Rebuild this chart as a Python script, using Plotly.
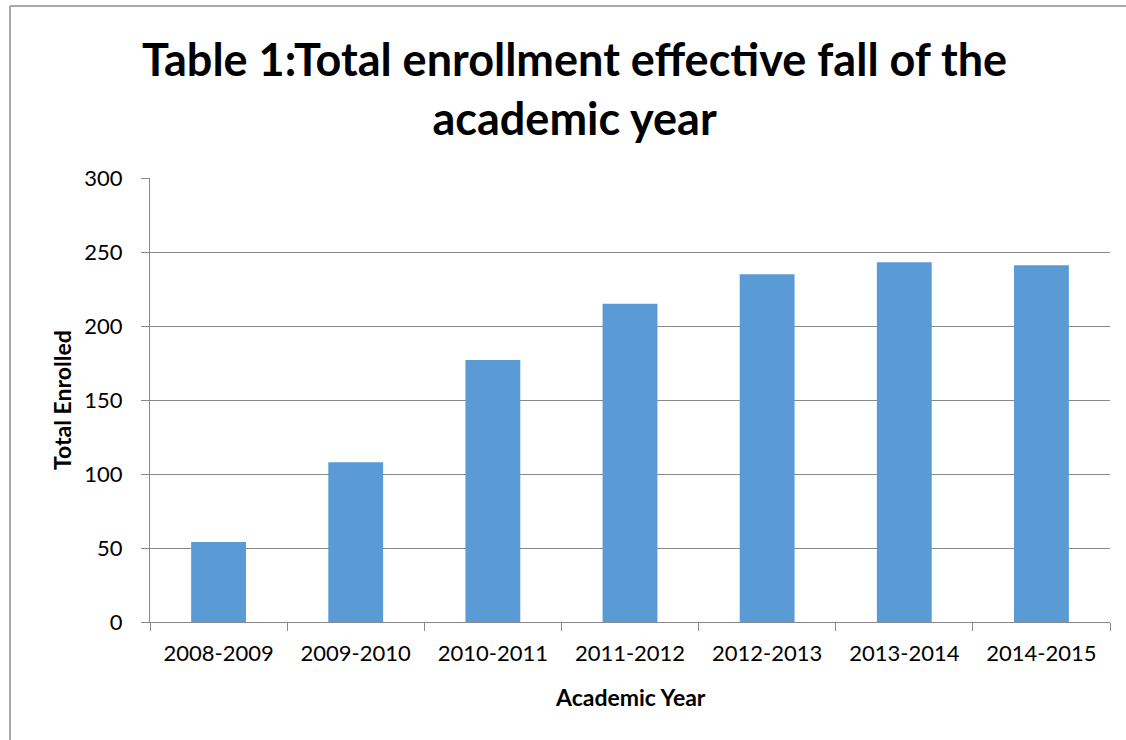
import plotly.graph_objects as go

years = ["2008-2009", "2009-2010", "2010-2011", "2011-2012", "2012-2013", "2013-2014", "2014-2015"]
enrolled = [54, 108, 177, 215, 235, 243, 241]
y_ticks = [0, 50, 100, 150, 200, 250, 300]

W, H = 1126, 740
# plot area position in pixels
SL, SR, ST, SB = 150, 1110, 178, 622
L, T, R, B = SL, ST, W - SR, H - SB
pw, ph = W - L - R, H - T - B

def px(x):
    return (x - L) / pw

def py(y):
    return (SB - y) / ph

FONT = "Lato"
BORDER = dict(color="#8c8c8c", width=1.5)

fig = go.Figure(go.Bar(
    x=years, y=enrolled, marker=dict(color="#5B9BD5", line=dict(width=0)), width=0.4,
))

fig.update_layout(
    width=W, height=H,
    margin=dict(l=L, r=R, t=T, b=B),
    paper_bgcolor="white", plot_bgcolor="white",
    showlegend=False,
    font=dict(family=FONT, color="black"),
    xaxis=dict(
        showline=True, linecolor="#898989", linewidth=1,
        ticks="outside", ticklen=8, tickcolor="#898989",
        tickson="boundaries", tickfont=dict(size=22, family=FONT),
        ticklabelstandoff=12,
        showgrid=False,
    ),
    yaxis=dict(
        range=[0, 300], tickvals=y_ticks,
        showline=True, linecolor="#898989", linewidth=1,
        ticks="outside", ticklen=8, tickcolor="#898989",
        tickfont=dict(size=22, family=FONT),
        ticklabelstandoff=14,
        showgrid=True, gridcolor="#898989", gridwidth=1,
        zeroline=False,
    ),
    shapes=[
        dict(type="line", xref="paper", yref="paper",
             x0=px(10), y0=py(6), x1=px(1200), y1=py(6), line=BORDER, layer="below"),
        dict(type="line", xref="paper", yref="paper",
             x0=px(10), y0=py(6), x1=px(10), y1=py(800), line=BORDER, layer="below"),
    ],
    annotations=[
        dict(text="<b>Table 1:Total enrollment effective fall of the<br>academic year</b>",
             xref="paper", yref="paper", x=px(574), y=py(89), xanchor="center", yanchor="middle",
             showarrow=False, font=dict(size=45, family=FONT), align="center"),
        dict(text="<b>Total Enrolled</b>", xref="paper", yref="paper", x=px(62), y=py(400),
             xanchor="center", yanchor="middle", textangle=-90, showarrow=False,
             font=dict(size=23, family=FONT)),
        dict(text="<b>Academic Year</b>", xref="paper", yref="paper", x=px(630), y=py(697),
             xanchor="center", yanchor="middle", showarrow=False,
             font=dict(size=23, family=FONT)),
    ],
)

fig.write_html(
    "out.html",
    config={"displayModeBar": False},
    post_script="document.body.style.margin='0';document.body.style.overflow='hidden';",
)
